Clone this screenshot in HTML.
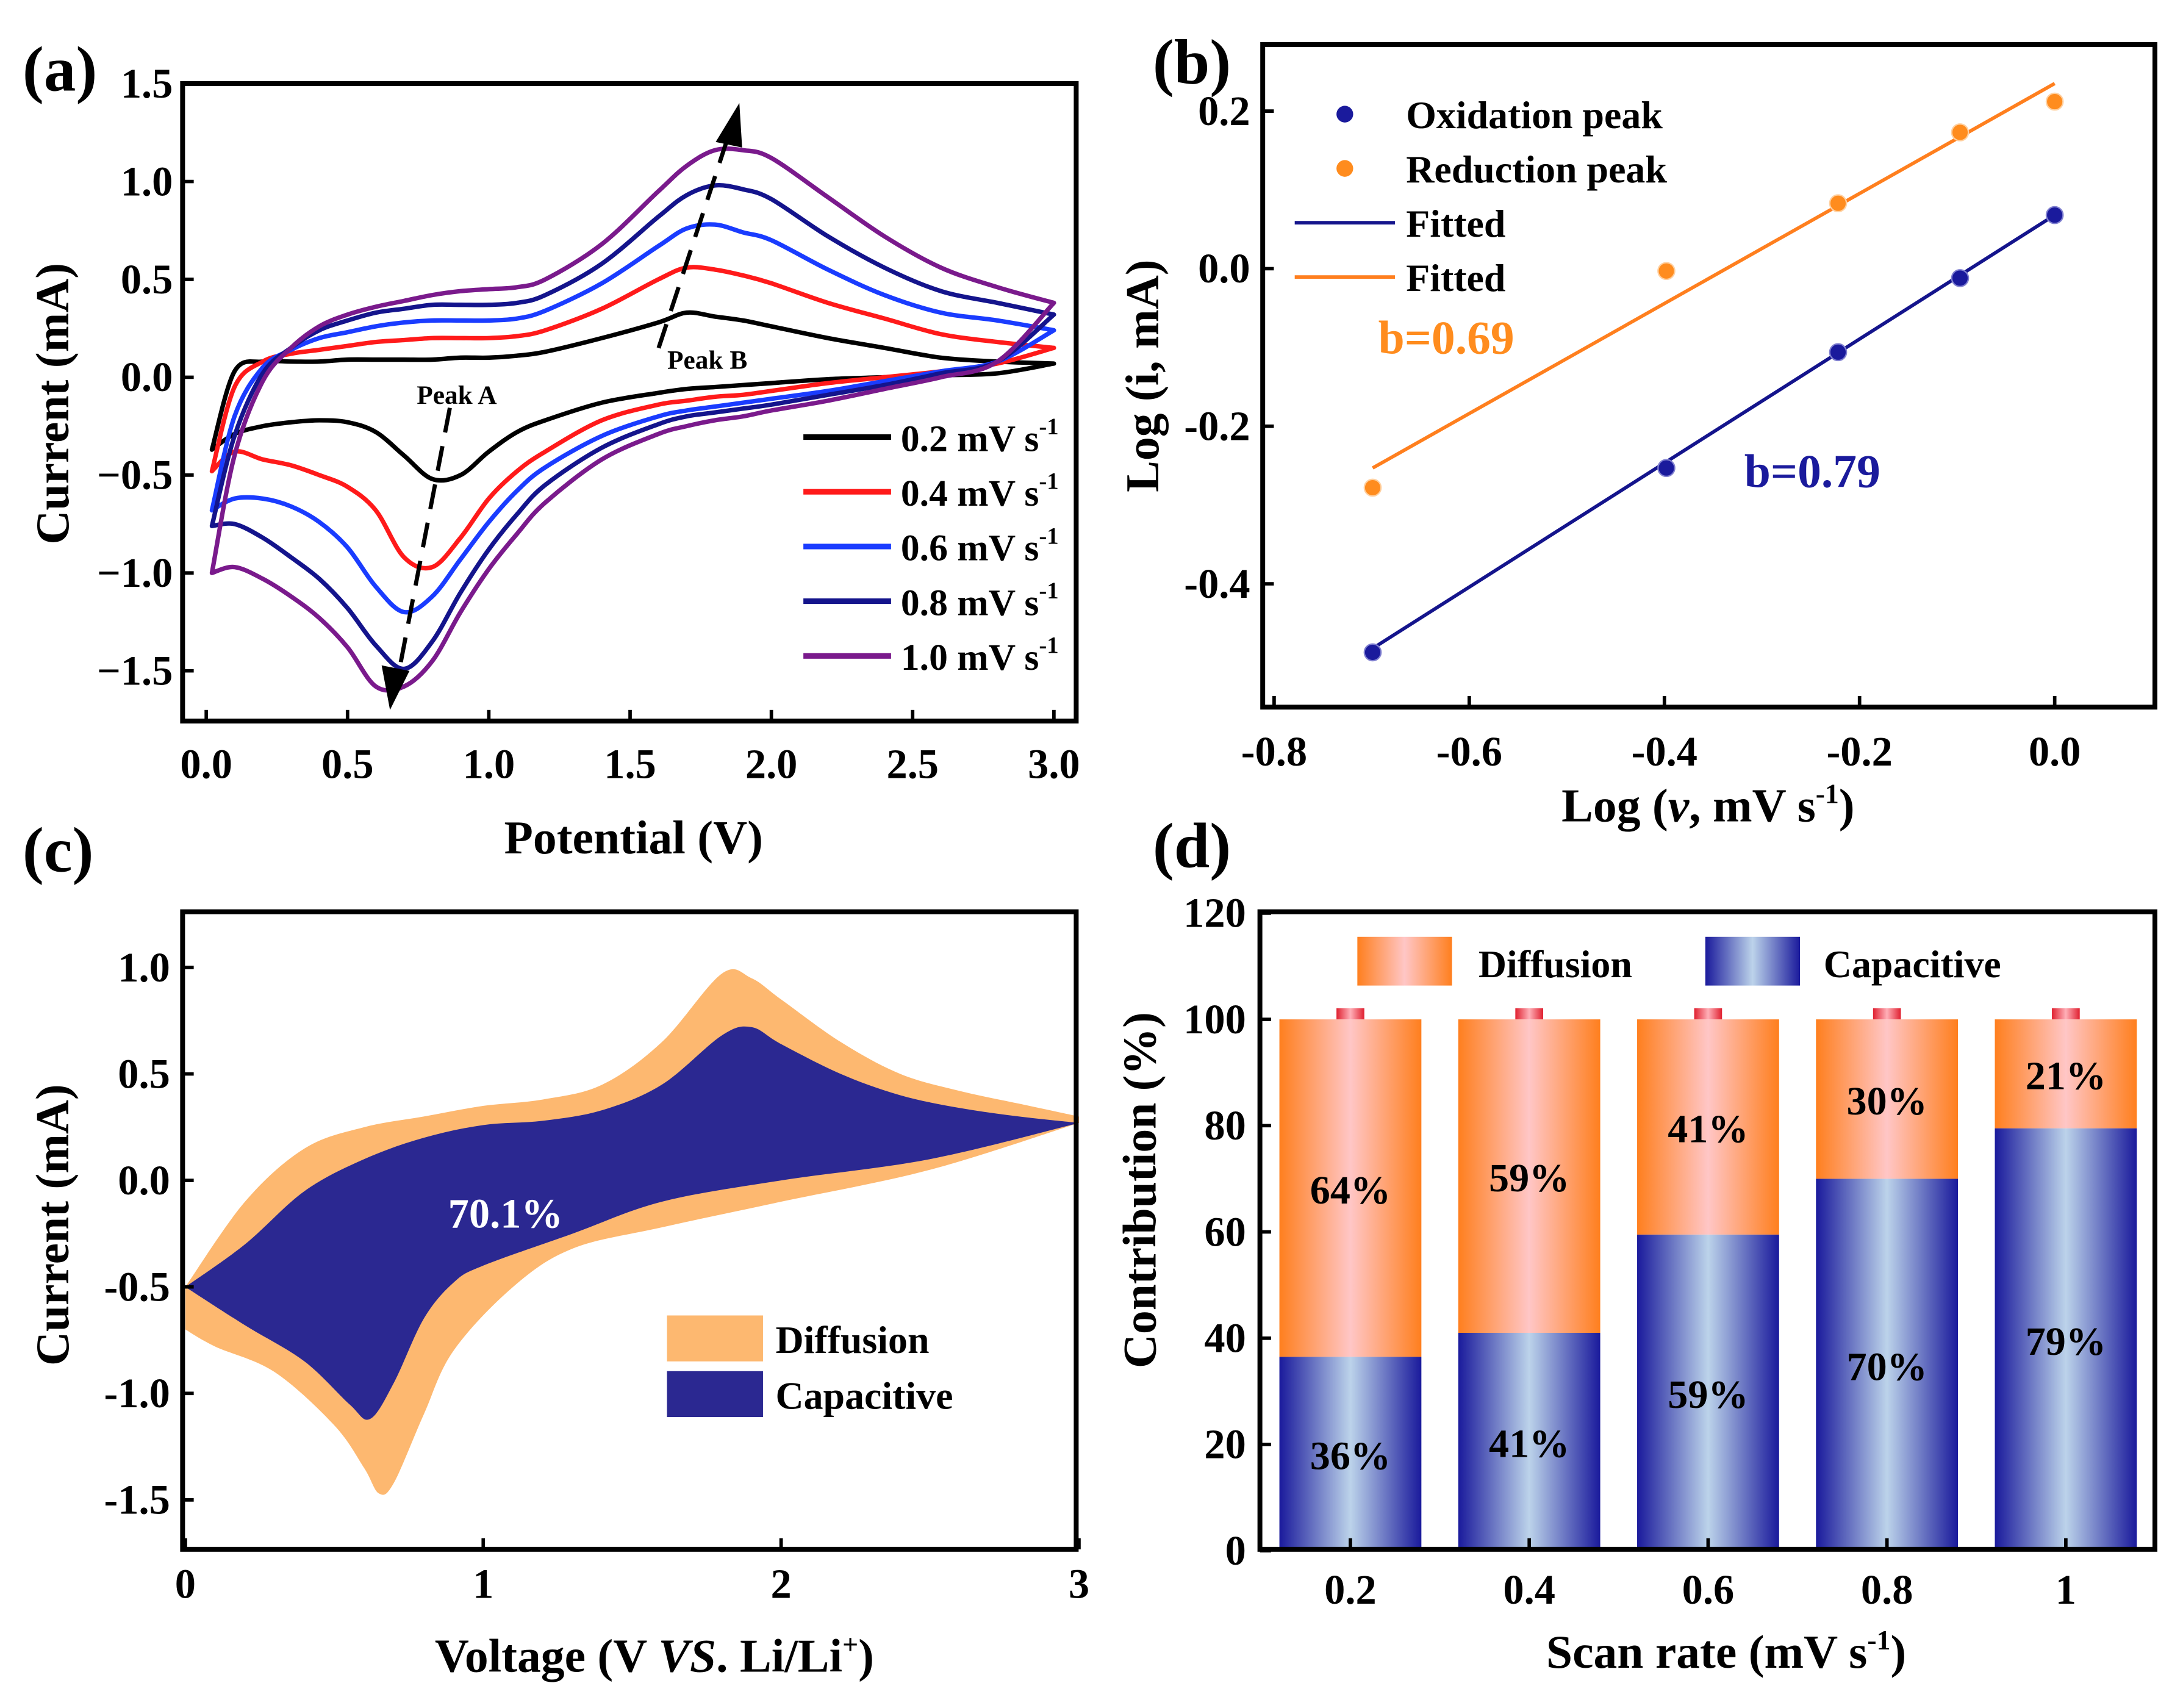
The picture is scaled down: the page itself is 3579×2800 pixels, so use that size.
<!DOCTYPE html>
<html><head><meta charset="utf-8"><style>
html,body{margin:0;padding:0;background:#fff}
svg{display:block}
text{font-family:"Liberation Serif",serif;font-weight:bold;fill:#000}
</style></head><body>
<svg id="fig" width="3579" height="2800" viewBox="0 0 1568 1227" xmlns="http://www.w3.org/2000/svg">
<defs>
<linearGradient id="gCap" x1="0" x2="1" y1="0" y2="0"><stop offset="0" stop-color="#1a1a9c"/><stop offset="0.5" stop-color="#bcd3ea"/><stop offset="1" stop-color="#1a1a9c"/></linearGradient>
<linearGradient id="gDif" x1="0" x2="1" y1="0" y2="0"><stop offset="0" stop-color="#ff7f1e"/><stop offset="0.5" stop-color="#ffc6c6"/><stop offset="1" stop-color="#ff7f1e"/></linearGradient>
<linearGradient id="gCapR" x1="0" x2="1" y1="0" y2="0"><stop offset="0" stop-color="#e02030"/><stop offset="0.5" stop-color="#ffb0b8"/><stop offset="1" stop-color="#e02030"/></linearGradient>
</defs>
<g id="root"></g>
</svg>
<script>
// ---------- Panel (a) data ----------
const gridA = [0.02,0.1,0.2,0.3,0.4,0.5,0.6,0.7,0.8,0.9,1.0,1.1,1.2,1.4,1.6,1.7,1.8,1.9,2.0,2.2,2.4,2.6,2.8,3.0];
const scanLabels = ["0.2 mV s","0.4 mV s","0.6 mV s","0.8 mV s","1.0 mV s"];
const scanColors = ["#000000","#ff1a1a","#1a3cff","#14148c","#7a1a8c"];
const up02 = [-0.37,0.03,0.08,0.08,0.08,0.09,0.09,0.09,0.09,0.10,0.10,0.11,0.13,0.20,0.28,0.33,0.31,0.29,0.26,0.20,0.15,0.10,0.08,0.07];
const dn02 = [-0.37,-0.29,-0.25,-0.23,-0.22,-0.23,-0.28,-0.40,-0.52,-0.50,-0.38,-0.28,-0.22,-0.13,-0.08,-0.06,-0.05,-0.04,-0.03,-0.01,0.0,0.01,0.02,0.07];
const up04 = [-0.48,-0.05,0.08,0.12,0.14,0.16,0.18,0.19,0.20,0.20,0.20,0.21,0.24,0.35,0.50,0.56,0.55,0.52,0.48,0.38,0.30,0.22,0.18,0.15];
const dn04 = [-0.48,-0.38,-0.42,-0.45,-0.50,-0.56,-0.68,-0.92,-0.97,-0.82,-0.62,-0.48,-0.38,-0.22,-0.14,-0.12,-0.10,-0.09,-0.07,-0.03,0.0,0.03,0.07,0.15];
const up06 = [-0.68,-0.20,0.05,0.14,0.20,0.23,0.26,0.28,0.29,0.29,0.29,0.30,0.34,0.48,0.67,0.76,0.78,0.74,0.70,0.55,0.42,0.33,0.29,0.24];
const dn06 = [-0.68,-0.62,-0.62,-0.66,-0.74,-0.87,-1.07,-1.20,-1.12,-0.93,-0.74,-0.58,-0.46,-0.30,-0.20,-0.17,-0.15,-0.13,-0.11,-0.07,-0.02,0.03,0.08,0.24];
const up08 = [-0.76,-0.30,0.02,0.15,0.24,0.29,0.33,0.35,0.37,0.37,0.37,0.38,0.42,0.58,0.82,0.93,0.98,0.96,0.91,0.72,0.56,0.44,0.38,0.32];
const dn08 = [-0.76,-0.75,-0.82,-0.92,-1.03,-1.18,-1.37,-1.49,-1.35,-1.10,-0.88,-0.70,-0.55,-0.36,-0.24,-0.20,-0.18,-0.16,-0.14,-0.09,-0.04,0.02,0.08,0.32];
const up10 = [-1.00,-0.40,-0.02,0.15,0.26,0.32,0.36,0.39,0.42,0.44,0.45,0.46,0.50,0.68,0.95,1.08,1.16,1.16,1.12,0.92,0.72,0.56,0.46,0.38];
const dn10 = [-1.00,-0.97,-1.03,-1.12,-1.23,-1.38,-1.58,-1.58,-1.45,-1.20,-0.98,-0.80,-0.64,-0.42,-0.29,-0.25,-0.22,-0.20,-0.17,-0.12,-0.06,0.00,0.08,0.38];
const xTicksA = ["0.0","0.5","1.0","1.5","2.0","2.5","3.0"];
const yTicksA = ["1.5","1.0","0.5","0.0","\u22120.5","\u22121.0","\u22121.5"];
// ---------- Panel (b) data ----------
const logV = [-0.699,-0.398,-0.222,-0.097,0.0];
const oxPeak = [-0.487,-0.253,-0.106,-0.012,0.068];
const redPeak = [-0.278,-0.003,0.083,0.173,0.212];
const oxFit = [-0.482,0.068];
const redFit = [-0.253,0.235];
const xTicksB = ["-0.8","-0.6","-0.4","-0.2","0.0"];
const yTicksB = ["0.2","0.0","-0.2","-0.4"];
// ---------- Panel (c) data ----------
const totTopV = [0,0.2,0.4,0.6,0.8,1.0,1.2,1.4,1.6,1.8,1.9,2.0,2.2,2.4,2.6,2.8,3.0];
const totTopI = [-0.5,-0.1,0.15,0.25,0.3,0.35,0.38,0.45,0.65,0.97,0.95,0.85,0.65,0.5,0.42,0.36,0.3];
const totBotV = [3.0,2.5,2.0,1.6,1.3,1.1,0.9,0.8,0.7,0.65,0.6,0.5,0.3,0.1,0.0];
const totBotI = [0.27,0.05,-0.1,-0.22,-0.32,-0.5,-0.8,-1.1,-1.42,-1.47,-1.35,-1.15,-0.9,-0.78,-0.7];
const capTopV = [0,0.2,0.4,0.6,0.8,1.0,1.2,1.4,1.6,1.8,1.9,2.0,2.2,2.4,2.6,2.8,3.0];
const capTopI = [-0.5,-0.3,-0.05,0.1,0.2,0.26,0.28,0.33,0.45,0.68,0.72,0.64,0.5,0.4,0.34,0.3,0.27];
const capBotV = [3.0,2.5,2.0,1.6,1.3,1.0,0.9,0.8,0.7,0.62,0.55,0.4,0.2,0.0];
const capBotI = [0.27,0.1,0.0,-0.1,-0.25,-0.4,-0.48,-0.65,-0.95,-1.12,-1.05,-0.85,-0.68,-0.5];
const xTicksC = ["0","1","2","3"];
const yTicksC = ["1.0","0.5","0.0","-0.5","-1.0","-1.5"];
// ---------- Panel (d) data ----------
const scanRates = ["0.2","0.4","0.6","0.8","1"];
const capPct = [36.5,41,59.5,70,79.5];
const capLabels = ["36%","41%","59%","70%","79%"];
const difLabels = ["64%","59%","41%","30%","21%"];
const yTicksD = ["0","20","40","60","80","100","120"];

const NS="http://www.w3.org/2000/svg";
const root=document.getElementById('root');
const TK=30, TT=34, LG=28;
function mk(tag,attrs,parent){const e=document.createElementNS(NS,tag);for(const k in attrs)e.setAttribute(k,attrs[k]);(parent||root).appendChild(e);return e;}
function txt(s,x,y,size,anchor,parent,extra){const t=mk('text',Object.assign({x:x,y:y,'font-size':size,'text-anchor':anchor||'middle'},extra||{}),parent);t.textContent=s;return t;}
function smooth(pts){let d='M'+pts[0][0].toFixed(2)+','+pts[0][1].toFixed(2);for(let i=0;i<pts.length-1;i++){const p0=pts[i-1]||pts[i],p1=pts[i],p2=pts[i+1],p3=pts[i+2]||p2;const c1=[p1[0]+(p2[0]-p0[0])/6,p1[1]+(p2[1]-p0[1])/6],c2=[p2[0]-(p3[0]-p1[0])/6,p2[1]-(p3[1]-p1[1])/6];d+='C'+c1[0].toFixed(2)+','+c1[1].toFixed(2)+' '+c2[0].toFixed(2)+','+c2[1].toFixed(2)+' '+p2[0].toFixed(2)+','+p2[1].toFixed(2);}return d;}

// ================= Panel A =================
const gA=mk('g',{});


const xA=v=>148+v*203, yA=i=>271-i*140.6;
let t=txt('(a)',16,65,46,'start',gA);
const ups=[up02,up04,up06,up08,up10], dns=[dn02,dn04,dn06,dn08,dn10];
ups.forEach((u,k)=>{
  const ptsU=gridA.map((v,i)=>[xA(v),yA(u[i])]);
  const ptsD=gridA.map((v,i)=>[xA(v),yA(dns[k][i])]).reverse();
  const p=mk('path',{d:smooth(ptsD)+' '+smooth(ptsU).replace('M','L')+'Z',fill:'none',stroke:scanColors[k],'stroke-width':3.2,'stroke-linejoin':'round'},gA);
  
  
  const ly=314+k*39.3;
  const l=mk('line',{x1:577,x2:640,y1:ly,y2:ly,stroke:scanColors[k],'stroke-width':4},gA);
  
  
  const lt=txt(scanLabels[k],647,ly+10,27,'start',gA);
  
  
  const ts=mk('tspan',{'font-size':17,dy:-12},lt);ts.textContent='-1';
});
mk('line',{x1:323,y1:293,x2:285,y2:490,stroke:'#000','stroke-width':3,'stroke-dasharray':'18,10'},gA);
mk('polygon',{points:'280,510 274,478 294,482',fill:'#000'},gA);
mk('line',{x1:473,y1:250,x2:524,y2:95,stroke:'#000','stroke-width':3,'stroke-dasharray':'18,10'},gA);
mk('polygon',{points:'531,74 514,102 533,106',fill:'#000'},gA);
t=txt('Peak A',328,290,19,'middle',gA);
t=txt('Peak B',508,265,19,'middle',gA);
let fr=mk('rect',{x:131,y:60,width:642,height:458,fill:'none',stroke:'#000','stroke-width':3.5},gA);

xTicksA.forEach((s,i)=>{const x=xA(i*0.5);mk('line',{x1:x,x2:x,y1:518,y2:510,stroke:'#000','stroke-width':2.5},gA);const e=txt(s,x,559,TK,'middle',gA);});
yTicksA.forEach((s,i)=>{const y=yA(1.5-i*0.5);mk('line',{x1:131,x2:139,y1:y,y2:y,stroke:'#000','stroke-width':2.5},gA);const e=txt(s,124,y+10,TK,'end',gA);});
t=txt('Potential (V)',455,613,TT,'middle',gA);
t=txt('Current (mA)',0,0,TT,'middle',gA,{transform:'translate(49,290) rotate(-90)'});

// ================= Panel B =================
const gB=mk('g',{});


const xB=v=>1476+v*701, yB=v=>193-v*566;
t=txt('(b)',828,60,46,'start',gB);
let l1=mk('line',{x1:xB(logV[0]),x2:xB(logV[4]),y1:yB(redFit[0]),y2:yB(redFit[1]),stroke:'#ff7f1e','stroke-width':2.5},gB);

l1=mk('line',{x1:xB(logV[0]),x2:xB(logV[4]),y1:yB(oxFit[0]),y2:yB(oxFit[1]),stroke:'#14148c','stroke-width':2.5},gB);

logV.forEach((v,i)=>{
  let c=mk('circle',{cx:xB(v),cy:yB(oxPeak[i]),r:6,fill:'#1a1a9c',stroke:'#8080d0','stroke-width':1},gB);
  
  c=mk('circle',{cx:xB(v),cy:yB(redPeak[i]),r:6,fill:'#ff8c1e',stroke:'#ffd0a0','stroke-width':1},gB);
  
});
[['Oxidation peak','pt','#1a1a9c'],['Reduction peak','pt','#ff8c1e'],['Fitted','ln','#14148c'],['Fitted','ln','#ff7f1e']].forEach((e,i)=>{
  const y=82+i*39;
  if(e[1]==='pt')mk('circle',{cx:966,cy:y,r:6,fill:e[2]},gB);else mk('line',{x1:930,x2:1002,y1:y,y2:y,stroke:e[2],'stroke-width':2.5},gB);
  const tt=txt(e[0],1010,y+10,LG,'start',gB);
  
});
t=txt('b=0.69',990,254,34,'start',gB);t.style.fill='#ff8c1e';
t=txt('b=0.79',1253,350,34,'start',gB);t.style.fill='#1a1a9c';
fr=mk('rect',{x:907,y:32,width:641,height:476,fill:'none',stroke:'#000','stroke-width':3.5},gB);

xTicksB.forEach((s,i)=>{const x=xB(-0.8+i*0.2);mk('line',{x1:x,x2:x,y1:508,y2:500,stroke:'#000','stroke-width':2.5},gB);const e=txt(s,x,550,TK,'middle',gB);});
yTicksB.forEach((s,i)=>{const y=yB(0.2-i*0.2);mk('line',{x1:907,x2:915,y1:y,y2:y,stroke:'#000','stroke-width':2.5},gB);const e=txt(s,898,y+10,TK,'end',gB);});
t=txt('',1227,590,TT,'middle',gB);
t.innerHTML='Log (<tspan font-style="italic">v</tspan>, mV s<tspan font-size="20" dy="-13">-1</tspan><tspan dy="13">)</tspan>';
t=txt('Log (i, mA)',0,0,TT,'middle',gB,{transform:'translate(832,270) rotate(-90)'});

// ================= Panel C =================
const gC=mk('g',{});


const xC=v=>133+v*214, yC=i=>848-i*153;
t=txt('(c)',16,626,46,'start',gC);
const totPts=totTopV.map((v,i)=>[xC(v),yC(totTopI[i])]), totB=totBotV.map((v,i)=>[xC(v),yC(totBotI[i])]);
let pa=mk('path',{d:smooth(totPts)+' '+smooth(totB).replace('M','L')+'Z',fill:'#fdb870'},gC);

const capPts=capTopV.map((v,i)=>[xC(v),yC(capTopI[i])]), capB=capBotV.map((v,i)=>[xC(v),yC(capBotI[i])]);
pa=mk('path',{d:smooth(capPts)+' '+smooth(capB).replace('M','L')+'Z',fill:'#2b2891'},gC);

t=txt('70.1%',363,882,30,'middle',gC);t.style.fill='#fff';
let r=mk('rect',{x:479,y:945,width:69,height:33,fill:'#fdb870'},gC);
r=mk('rect',{x:479,y:985,width:69,height:33,fill:'#2b2891'},gC);
t=txt('Diffusion',557,972,LG,'start',gC);
t=txt('Capacitive',557,1012,LG,'start',gC);
fr=mk('rect',{x:131,y:655,width:642,height:458,fill:'none',stroke:'#000','stroke-width':3.5},gC);

xTicksC.forEach((s,i)=>{const x=xC(i);mk('line',{x1:x,x2:x,y1:1113,y2:1105,stroke:'#000','stroke-width':2.5},gC);const e=txt(s,x,1148,TK,'middle',gC);});
yTicksC.forEach((s,i)=>{const y=yC(1.0-i*0.5);mk('line',{x1:131,x2:139,y1:y,y2:y,stroke:'#000','stroke-width':2.5},gC);const e=txt(s,122,y+10,TK,'end',gC);});
t=txt('',470,1201,TT,'middle',gC);
t.innerHTML='Voltage (V <tspan font-style="italic">VS</tspan>. Li/Li<tspan font-size="20" dy="-13">+</tspan><tspan dy="13">)</tspan>';
t=txt('Current (mA)',0,0,TT,'middle',gC,{transform:'translate(49,880) rotate(-90)'});

// ================= Panel D =================
const gD=mk('g',{});


const yD=p=>1114-p*3.817, xD=i=>970+i*128.5, bw=102;
t=txt('(d)',828,623,46,'start',gD);
scanRates.forEach((s,i)=>{
  const x=xD(i)-bw/2;
  let b=mk('rect',{x:x,y:yD(capPct[i]),width:bw,height:yD(0)-yD(capPct[i]),fill:'url(#gCap)'},gD);
  
  b=mk('rect',{x:x,y:yD(100),width:bw,height:yD(capPct[i])-yD(100),fill:'url(#gDif)'},gD);
  
  b=mk('rect',{x:xD(i)-10,y:yD(100)-8,width:20,height:8,fill:'url(#gCapR)'},gD);
  
  let e=txt(capLabels[i],xD(i),yD(capPct[i]/2)+11,29,'middle',gD);
  e=txt(difLabels[i],xD(i),yD((100+capPct[i])/2)+11,29,'middle',gD);
  mk('line',{x1:xD(i),x2:xD(i),y1:1113,y2:1105,stroke:'#000','stroke-width':2.5},gD);
  e=txt(s,xD(i),1152,TK,'middle',gD);
});
r=mk('rect',{x:975,y:673,width:68,height:35,fill:'url(#gDif)'},gD);
r=mk('rect',{x:1225,y:673,width:68,height:35,fill:'url(#gCap)'},gD);
t=txt('Diffusion',1062,702,LG,'start',gD);
t=txt('Capacitive',1310,702,LG,'start',gD);
fr=mk('rect',{x:905,y:655,width:643,height:458,fill:'none',stroke:'#000','stroke-width':3.5},gD);

yTicksD.forEach((s,i)=>{const y=yD(i*20);mk('line',{x1:905,x2:913,y1:y,y2:y,stroke:'#000','stroke-width':2.5},gD);const e=txt(s,895,y+10,TK,'end',gD);});
t=txt('',1240,1198,TT,'middle',gD);
t.innerHTML='Scan rate (mV s<tspan font-size="20" dy="-13">-1</tspan><tspan dy="13">)</tspan>';
t=txt('Contribution (%)',0,0,TT,'middle',gD,{transform:'translate(830,855) rotate(-90)'});
</script>
</body></html>
